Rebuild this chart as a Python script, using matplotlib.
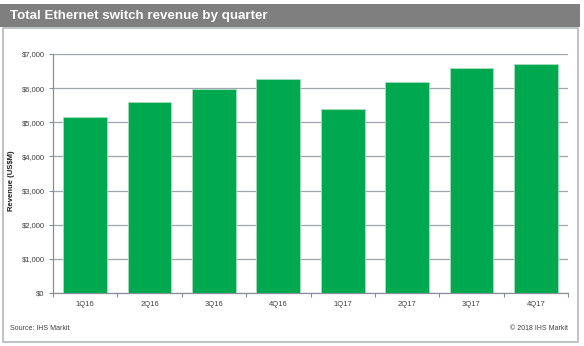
import matplotlib.pyplot as plt
import matplotlib.patches as patches
from matplotlib.ticker import FuncFormatter, FixedLocator

quarters = ['1Q16', '2Q16', '3Q16', '4Q16', '1Q17', '2Q17', '3Q17', '4Q17']
revenue = [5150, 5600, 5970, 6280, 5400, 6180, 6590, 6710]

fig = plt.figure(figsize=(5.84, 3.46), dpi=100)
plt.rcParams['font.family'] = ['Liberation Sans', 'DejaVu Sans']

# header bar and frame
fig.patches.append(patches.Rectangle((0, 1 - 27/346), 580/584, 23/346, transform=fig.transFigure,
                                     facecolor='#7f7f7f', edgecolor='none'))
fig.patches.append(patches.Rectangle((3/584, 1 - 342/346), 575/584, 314/346, transform=fig.transFigure,
                                     facecolor='none', edgecolor='#b4b8c0', linewidth=1.2))
fig.text(10/584, 1 - 15.5/346, 'Total Ethernet switch revenue by quarter', color='white',
         fontsize=9.6, fontweight='bold', va='center', ha='left')

ax = fig.add_axes([53/584, 1 - 293/346, 515/584, 239/346])
x = range(len(quarters))
ax.bar(x, revenue, width=0.68, color='#00a94f', edgecolor='#a8dcbc', linewidth=0.6, zorder=3)

ax.set_xlim(-0.5, len(quarters) - 0.5)
ax.set_ylim(0, 7000)
ax.set_yticks(range(0, 7001, 1000))
ax.yaxis.set_major_formatter(FuncFormatter(lambda v, p: '${:,.0f}'.format(v)))
ax.set_xticks(list(x))
ax.set_xticklabels(quarters)
ax.xaxis.set_minor_locator(FixedLocator([i + 0.5 for i in range(-1, len(quarters))]))
ax.tick_params(axis='x', which='major', length=0, labelsize=5.5, colors='#404040', pad=6)
ax.tick_params(axis='x', which='minor', length=3, color='#8a8f99', width=0.8)
ax.tick_params(axis='y', length=3, color='#8a8f99', width=0.8, labelsize=5.5, labelcolor='#404040', pad=3)

ax.grid(axis='y', color='#a0a6b0', linewidth=0.9, zorder=0)
for s in ['top', 'right']:
    ax.spines[s].set_visible(False)
ax.spines['left'].set_color('#8a8f99')
ax.spines['bottom'].set_color('#8a8f99')
ax.spines['left'].set_linewidth(0.9)
ax.spines['bottom'].set_linewidth(0.9)

ax.set_ylabel('Revenue (US$M)', fontsize=5.5, fontweight='bold', color='#202020', labelpad=5)
ax.yaxis.set_label_coords(-0.074, 0.47)

fig.text(10/584, 1 - 328/346, 'Source: IHS Markit', fontsize=5, color='#404040', va='center')
fig.text(568/584, 1 - 328/346, '© 2018 IHS Markit', fontsize=5, color='#404040', va='center', ha='right')

fig.savefig('out.png', dpi=100)
